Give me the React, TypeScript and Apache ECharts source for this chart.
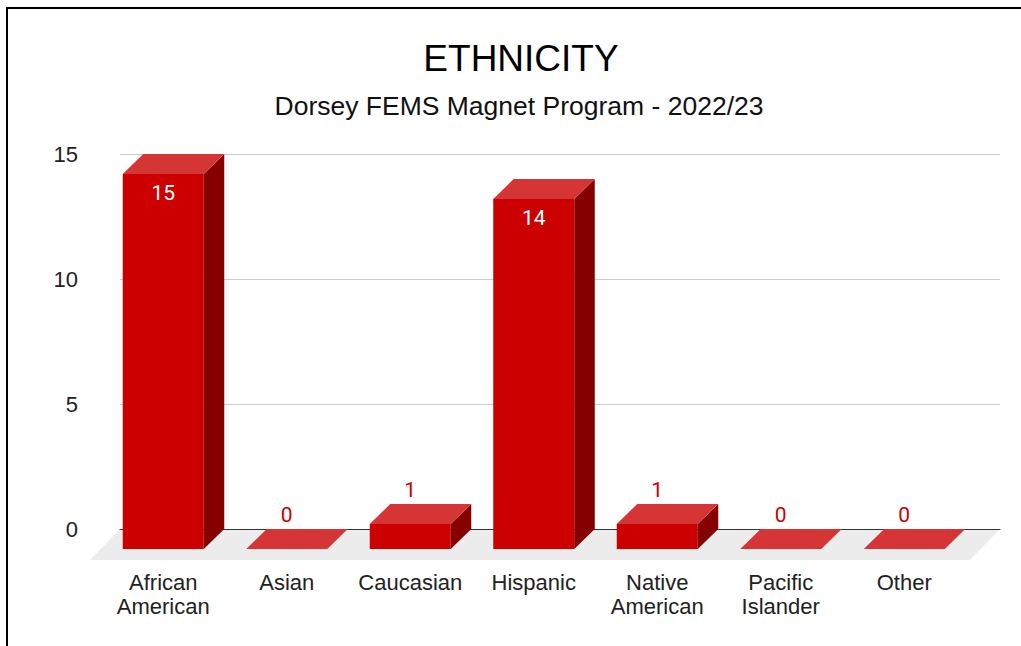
import React, { useEffect, useRef } from "react";
import * as echarts from "echarts";

const categories = [
  "African\nAmerican",
  "Asian",
  "Caucasian",
  "Hispanic",
  "Native\nAmerican",
  "Pacific\nIslander",
  "Other",
];
const values = [15, 0, 1, 14, 1, 0, 0];
const yMin = 0;
const yMax = 15;
const yInterval = 5;

const TITLE = "ETHNICITY";
const SUBTITLE = "Dorsey FEMS Magnet Program - 2022/23";

const FRONT = "#cc0000";
const TOP = "#d63535";
const SIDE = "#850000";
const DX = 20.5;
const DY = 20;
const TEXT_FONT = "'Liberation Sans', Arial, sans-serif";
const LABEL_FONT = "Roboto, 'Liberation Sans', sans-serif";

export default function App() {
  const ref = useRef<HTMLDivElement>(null);

  useEffect(() => {
    if (!ref.current) return;
    const chart = echarts.init(ref.current, undefined, { renderer: "svg" });

    const renderItem = (params: any, api: any) => {
      const idx = api.value(0);
      const val = api.value(1);
      const top = api.coord([idx, val]);
      const base = api.coord([idx, 0]);
      const band = api.size([1, 0])[0];
      const w = band * 0.656;
      const x0 = top[0] - w / 2;
      const x1 = top[0] + w / 2;
      const yT = top[1];
      const yB = base[1];
      const children: any[] = [];
      if (yB - yT > 0.5) {
        children.push({
          type: "polygon",
          shape: { points: [[x0, yT], [x1, yT], [x1, yB], [x0, yB]] },
          style: { fill: FRONT },
        });
        children.push({
          type: "polygon",
          shape: { points: [[x1, yT], [x1 + DX, yT - DY], [x1 + DX, yB - DY], [x1, yB]] },
          style: { fill: SIDE },
        });
      }
      children.push({
        type: "polygon",
        shape: { points: [[x0, yT], [x1, yT], [x1 + DX, yT - DY], [x0 + DX, yT - DY]] },
        style: { fill: TOP },
      });
      const inside = yB - yT > 40;
      children.push({
        type: "text",
        x: top[0],
        y: inside ? yT + 19 : yT - DY - 14,
        style: {
          text: String(val),
          fill: inside ? "#ffffff" : FRONT,
          font: `21px ${LABEL_FONT}`,
          align: "center",
          verticalAlign: "middle",
        },
      });
      return { type: "group", children };
    };

    chart.setOption({
      animation: false,
      backgroundColor: "#ffffff",
      title: [
        {
          text: TITLE,
          left: 521,
          top: 40,
          padding: 0,
          textAlign: "center",
          textStyle: { fontFamily: TEXT_FONT, fontSize: 37, fontWeight: "normal", color: "#000" },
        },
        {
          text: SUBTITLE,
          left: 519,
          top: 92,
          padding: 0,
          textAlign: "center",
          textStyle: { fontFamily: TEXT_FONT, fontSize: 26.5, fontWeight: "normal", color: "#111" },
        },
      ],
      graphic: [
        {
          type: "polygon",
          z: 0,
          silent: true,
          shape: { points: [[120, 529], [1000, 529], [970, 560], [90, 560]] },
          style: { fill: "#ececec" },
        },
        {
          type: "line",
          z: 10,
          silent: true,
          shape: { x1: 6, y1: 8, x2: 1021, y2: 8 },
          style: { stroke: "#000", lineWidth: 2 },
        },
        {
          type: "line",
          z: 10,
          silent: true,
          shape: { x1: 7, y1: 7, x2: 7, y2: 646 },
          style: { stroke: "#000", lineWidth: 2 },
        },
      ],
      grid: [
        { left: 120, right: 21, top: 154, bottom: 117, outerBoundsMode: "none" },
        { left: 101.5, right: 55, top: 174, bottom: 97, outerBoundsMode: "none" },
      ],
      xAxis: [
        {
          type: "category",
          gridIndex: 0,
          data: categories,
          z: 1,
          axisLine: { show: true, lineStyle: { color: "#333", width: 1 } },
          axisTick: { show: false },
          axisLabel: { show: false },
          splitLine: { show: false },
        },
        {
          type: "category",
          gridIndex: 1,
          data: categories,
          axisLine: { show: false },
          axisTick: { show: false },
          splitLine: { show: false },
          axisLabel: {
            interval: 0,
            margin: 21,
            fontFamily: TEXT_FONT,
            fontSize: 22,
            lineHeight: 24,
            color: "#222",
          },
        },
      ],
      yAxis: [
        {
          type: "value",
          gridIndex: 0,
          min: yMin,
          max: yMax,
          interval: yInterval,
          z: 1,
          axisLine: { show: false },
          axisTick: { show: false },
          axisLabel: {
            margin: 42,
            fontFamily: TEXT_FONT,
            fontSize: 22,
            color: "#222",
          },
          splitLine: { show: true, lineStyle: { color: ["#333", "#cccccc", "#cccccc", "#cccccc"], width: 1 } },
        },
        {
          type: "value",
          gridIndex: 1,
          min: yMin,
          max: yMax,
          interval: yInterval,
          show: false,
          splitLine: { show: false },
        },
      ],
      series: [
        {
          type: "custom",
          xAxisIndex: 1,
          yAxisIndex: 1,
          z: 3,
          renderItem,
          encode: { x: 0, y: 1 },
          data: values.map((v, i) => [i, v]),
        },
      ],
    });

    return () => chart.dispose();
  }, []);

  return (
    <div
      ref={ref}
      style={{ position: "absolute", left: 0, top: 0, width: 1021, height: 646 }}
    />
  );
}
